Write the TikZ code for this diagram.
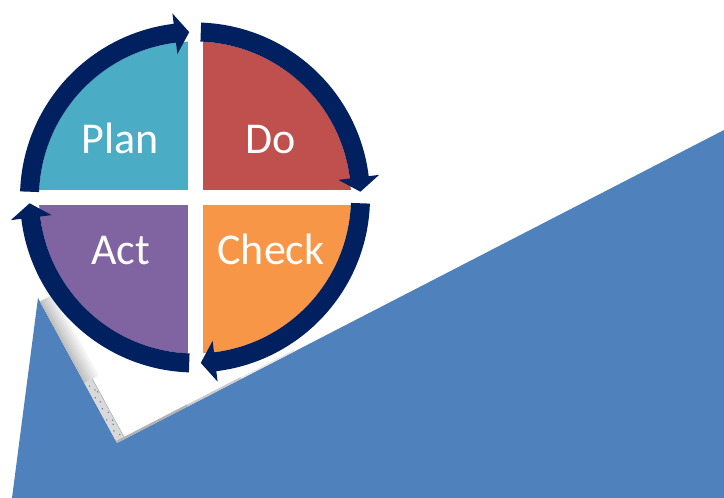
\documentclass[tikz,border=0pt]{standalone}
\usepackage{fontspec}
\setmainfont{Carlito}
\definecolor{plancol}{HTML}{4BACC6}
\definecolor{docol}{HTML}{C0504D}
\definecolor{checkcol}{HTML}{F79646}
\definecolor{actcol}{HTML}{8064A2}
\definecolor{ringcol}{HTML}{002060}
\definecolor{bluebg}{HTML}{4F81BD}
\tikzset{
  quadlabel/.style={text=white, font=\fontsize{44}{50}\selectfont, anchor=base, inner sep=0pt},
  ringarrow/.style={fill=ringcol}
}
\begin{document}
\begin{tikzpicture}[x=1pt,y=1pt]
\useasboundingbox (0,0) rectangle (724,498);
\coordinate (C) at (195,300.5);
% big blue shape
\fill[bluebg] (38,200) -- (117,55) -- (724,368) -- (724,0) -- (12,0) -- cycle;
% page curl shadow along the left edge
\begin{scope}[shift={(38,200)}, rotate=-61.4]
  \foreach \i in {0,...,7} {
    \pgfmathsetmacro\shadeval{50-6*\i}
    \fill[gray!\shadeval] (4,{\i*2}) rectangle (97,{\i*2+2.2});
  }
  \fill[gray!30] (97,0) rectangle (164,9);
  \draw[gray!60, line width=0.6] (97,9) -- (164,9) -- (164,0);
  \foreach \px/\py in {102/3,108/6,115/2.5,121/5,128/3.5,134/7,140/2,147/5.5,153/3,159/6.5,111/7.5,143/7}
    \fill[ringcol!60] (\px,\py) circle (0.8);
\end{scope}
% thin shadow along bottom edge of the page
\begin{scope}[shift={(117,55)}, rotate=27.3]
  \fill[gray!60] (0,0) rectangle (80,2.2);
  \fill[gray!40] (80,0) rectangle (140,2);
  \fill[gray!20] (140,0) rectangle (200,1.5);
\end{scope}
% quadrants
\begin{scope}
  \clip (C) circle (156);
  \fill[plancol]  ([shift={(-7.5,7.5)}]C) rectangle ++(-200,200);
  \fill[docol]    ([shift={(7.5,7.5)}]C) rectangle ++(200,200);
  \fill[checkcol] ([shift={(7.5,-7.5)}]C) rectangle ++(200,-200);
  \fill[actcol]   ([shift={(-7.5,-7.5)}]C) rectangle ++(-200,-200);
\end{scope}
% ring arrows
\foreach \s in {178,88,-2,268} {
  \pgfmathsetmacro\basea{\s-81}
  \pgfmathsetmacro\tipa{\s-86}
  \fill[ringarrow] ([shift={(\s:175)}]C) arc[start angle=\s, end angle=\basea, radius=175]
    -- ([shift={(\basea:185.5)}]C) -- ([shift={(\tipa:165.5)}]C)
    -- ([shift={(\basea:144.5)}]C) -- ([shift={(\basea:156)}]C)
    arc[start angle=\basea, end angle=\s, radius=156] -- cycle;
}
% labels
\node[quadlabel] (plan)  at (120,344.5) {Plan};
\node[quadlabel] (do)    at (271,344.5) {Do};
\node[quadlabel] (act)   at (120.5,233) {Act};
\node[quadlabel] (check) at (271,233) {Check};
\end{tikzpicture}
\end{document}
